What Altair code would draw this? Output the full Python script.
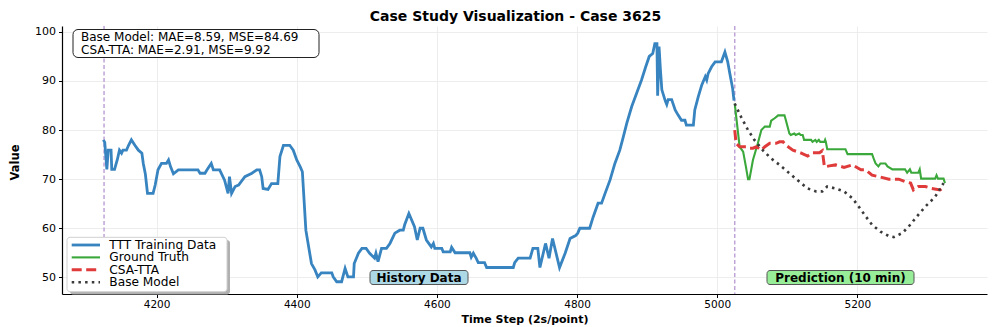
import altair as alt
import pandas as pd

# ---------------- data ----------------
series_names = ["TTT Training Data", "Ground Truth", "CSA-TTA", "Base Model"]
series_colors = ["#3784c0", "#3aa83a", "#e03b3b", "#3a3a3a"]

hist_x = [4124, 4126, 4129, 4131, 4135, 4136, 4140, 4144, 4147, 4150, 4152, 4157, 4160, 4164, 4169,
          4174, 4179, 4181, 4184, 4187, 4195, 4198, 4202, 4207, 4214, 4217, 4220, 4224, 4231, 4259,
          4262, 4269, 4272, 4278, 4281, 4290, 4297, 4302, 4304, 4307, 4312, 4317, 4326, 4336, 4343,
          4347, 4350, 4352, 4359, 4364, 4373, 4376, 4381, 4390, 4395, 4400, 4405, 4408, 4413, 4421,
          4426, 4430, 4435, 4450, 4452, 4457, 4464, 4469, 4473, 4481, 4482, 4488, 4493, 4499, 4504,
          4511, 4513, 4516, 4521, 4528, 4533, 4540, 4547, 4552, 4554, 4560, 4568, 4572, 4576, 4580,
          4585, 4592, 4595, 4597, 4607, 4609, 4619, 4621, 4626, 4647, 4649, 4652, 4656, 4659, 4668,
          4671, 4709, 4711, 4716, 4733, 4737, 4744, 4747, 4755, 4760, 4765, 4775, 4783, 4790, 4798,
          4801, 4804, 4818, 4823, 4830, 4835, 4840, 4847, 4854, 4861, 4866, 4871, 4878, 4885, 4892,
          4898, 4903, 4908, 4911, 4914, 4915, 4917, 4919, 4921, 4926, 4928, 4930, 4935, 4940, 4944,
          4949, 4954, 4956, 4966, 4968, 4973, 4978, 4983, 4985, 4987, 4992, 4997, 5006, 5011, 5015,
          5018, 5022, 5024]
hist_y = [78.0, 77.5, 72.0, 75.9, 75.9, 72.0, 72.0, 74.0, 75.9, 75.3, 75.9, 75.9, 76.9, 78.0, 76.9,
          75.9, 75.3, 73.2, 71.0, 67.1, 67.1, 68.8, 71.9, 73.2, 73.2, 73.9, 72.5, 71.1, 71.9, 71.9,
          71.2, 71.2, 71.9, 73.2, 71.9, 71.9, 69.8, 67.1, 70.5, 67.1, 68.5, 68.8, 70.5, 71.2, 71.9,
          71.9, 70.5, 68.1, 67.9, 69.1, 69.1, 74.6, 76.9, 76.9, 75.9, 73.9, 72.5, 71.5, 59.6, 52.8,
          51.5, 50.1, 50.9, 50.9, 50.1, 49.1, 49.1, 51.8, 50.1, 50.1, 52.8, 54.9, 55.9, 55.9, 54.9,
          53.9, 54.9, 53.2, 55.9, 55.9, 56.9, 59.0, 59.6, 59.6, 60.7, 63.0, 60.3, 57.6, 60.0, 60.0,
          57.6, 56.2, 56.9, 55.9, 55.9, 55.2, 55.2, 56.1, 55.0, 55.0, 54.1, 54.9, 53.9, 53.0, 53.0,
          52.0, 52.0, 53.0, 53.9, 53.9, 55.9, 55.9, 52.0, 56.9, 53.9, 57.9, 52.0, 54.9, 57.9, 58.5,
          59.0, 60.0, 60.0, 62.3, 65.1, 65.1, 67.1, 69.8, 73.2, 75.9, 78.6, 81.4, 84.8, 87.5, 90.2,
          92.9, 95.0, 95.6, 97.6, 97.6, 87.0, 97.0, 92.2, 88.2, 85.9, 85.2, 86.2, 86.2, 84.1, 83.1,
          82.0, 82.0, 81.0, 81.0, 84.1, 86.8, 89.2, 90.9, 90.2, 91.5, 92.9, 93.9, 93.9, 95.9, 93.9,
          91.5, 88.5, 86.0]

gt_x = [5025, 5032, 5037, 5041, 5044, 5046, 5051, 5058, 5063, 5068, 5075, 5077, 5082, 5087, 5096,
        5098, 5103, 5105, 5110, 5112, 5117, 5119, 5122, 5124, 5134, 5136, 5140, 5142, 5145, 5147,
        5153, 5154, 5155, 5157, 5183, 5186, 5221, 5224, 5226, 5230, 5233, 5240, 5243, 5250, 5268,
        5271, 5275, 5277, 5287, 5289, 5291, 5311, 5313, 5315, 5323, 5325]
gt_y = [85.4, 76.6, 75.6, 72.5, 70.0, 70.0, 73.9, 77.3, 80.0, 80.7, 80.7, 81.9, 82.4, 83.0, 83.0,
        82.0, 79.3, 79.0, 79.3, 79.0, 79.3, 79.0, 79.0, 78.0, 78.0, 77.6, 78.0, 77.6, 78.0, 77.6,
        77.6, 78.0, 77.6, 76.1, 76.1, 75.1, 75.1, 73.9, 73.2, 72.6, 73.2, 73.2, 72.6, 72.0, 72.0,
        71.3, 72.0, 71.3, 71.3, 72.0, 70.1, 70.1, 70.8, 70.1, 70.1, 69.2]

csa_x = [5025, 5027, 5032, 5042, 5046, 5051, 5056, 5063, 5068, 5075, 5084, 5089, 5094, 5098, 5108,
         5120, 5129, 5136, 5146, 5150, 5153, 5160, 5169, 5181, 5193, 5205, 5212, 5221, 5231, 5245,
         5259, 5268, 5276, 5280, 5287, 5297, 5306, 5318, 5323]
csa_y = [80.0, 77.3, 76.6, 76.6, 76.3, 76.3, 76.6, 75.9, 76.6, 77.3, 77.3, 77.6, 77.6, 76.9, 75.9,
         75.3, 74.7, 75.4, 75.4, 75.8, 72.5, 72.7, 72.9, 72.4, 72.9, 71.9, 71.9, 70.8, 70.5, 70.0,
         70.0, 69.5, 69.2, 67.8, 68.5, 68.5, 68.1, 67.8, 68.3]

base_x = [5025, 5034, 5044, 5053, 5065, 5077, 5089, 5103, 5117, 5129, 5141, 5150, 5157, 5169, 5181,
          5193, 5202, 5212, 5221, 5233, 5245, 5252, 5264, 5273, 5285, 5297, 5311, 5323]
base_y = [85.4, 82.7, 80.0, 78.0, 75.9, 74.2, 72.9, 71.2, 69.5, 68.1, 67.5, 67.5, 68.5, 68.1, 67.5,
          66.1, 64.4, 62.4, 60.7, 59.3, 58.4, 58.2, 59.0, 60.3, 62.4, 64.4, 66.4, 69.2]

split_x = [4125, 5025]
x_ticks = [4200, 4400, 4600, 4800, 5000, 5200]
y_ticks = [50, 60, 70, 80, 90, 100]
metrics_lines = ["Base Model: MAE=8.59, MSE=84.69", "CSA-TTA: MAE=2.91, MSE=9.92"]
region_labels = ["History Data", "Prediction (10 min)"]

# ---------------- tables ----------------
frames = []
for name, xs, ys in zip(series_names, [hist_x, gt_x, csa_x, base_x], [hist_y, gt_y, csa_y, base_y]):
    frames.append(pd.DataFrame({"x": xs, "y": ys, "series": name}))
lines_df = pd.concat(frames, ignore_index=True)
dummy = pd.DataFrame({"d": [0]})

FONT = "DejaVu Sans"

x_enc = alt.X("x:Q", scale=alt.Scale(domain=[4065, 5385], nice=False, zero=False),
              axis=alt.Axis(values=x_ticks, title="Time Step (2s/point)", format="d",
                            titleY=25.5, titleBaseline="middle", labelPadding=2,
                            labelFontSize=10.5, titleFontSize=11))
y_enc = alt.Y("y:Q", scale=alt.Scale(domain=[46.6, 101.2], nice=False, zero=False),
              axis=alt.Axis(values=y_ticks, title="Value", titleX=-47, titleY=136,
                            titleBaseline="middle"))

styles = {
    "TTT Training Data": dict(strokeWidth=2.8),
    "Ground Truth": dict(strokeWidth=2.1),
    "CSA-TTA": dict(strokeWidth=3.0, strokeDash=[10, 4.5]),
    "Base Model": dict(strokeWidth=2.6, strokeDash=[2.5, 4.2]),
}

layers = []
rules = alt.Chart(pd.DataFrame({"x": split_x})).mark_rule(
    color="#bfa4d7", strokeDash=[4, 2.5], strokeWidth=1.5).encode(x=x_enc)
layers.append(rules)

for name, col in zip(series_names, series_colors):
    layers.append(
        alt.Chart(lines_df).transform_filter(alt.datum.series == name)
        .mark_line(color=col, strokeCap="butt", strokeJoin="miter", **styles[name])
        .encode(x=x_enc, y=y_enc)
    )

# metrics annotation box
layers.append(alt.Chart(dummy).mark_rect(fill="white", stroke="#222", strokeWidth=1, cornerRadius=5)
              .encode(x=alt.value(11), x2=alt.value(257), y=alt.value(3.5), y2=alt.value(31.5)))
for i, t in enumerate(metrics_lines):
    layers.append(alt.Chart(dummy).mark_text(align="left", baseline="middle", font=FONT, fontSize=12,
                                             color="black")
                  .encode(x=alt.value(19), y=alt.value(11.3 + 12.5 * i), text=alt.value(t)))

# region labels
for lab, x0, x1, fillc in [(region_labels[0], 308, 406, "#add8e6"), (region_labels[1], 705, 852, "#98ee98")]:
    layers.append(alt.Chart(dummy).mark_rect(fill=fillc, stroke="#555", strokeWidth=1, cornerRadius=3)
                  .encode(x=alt.value(x0), x2=alt.value(x1), y=alt.value(244.5), y2=alt.value(258.5)))
    layers.append(alt.Chart(dummy).mark_text(align="center", baseline="middle", font=FONT, fontSize=12,
                                             fontWeight="bold", color="black")
                  .encode(x=alt.value((x0 + x1) / 2), y=alt.value(251.8), text=alt.value(lab)))

# legend (drawn)
layers.append(alt.Chart(dummy).mark_rect(fill="#b0b0b0", cornerRadius=3)
              .encode(x=alt.value(8), x2=alt.value(168), y=alt.value(214), y2=alt.value(268.5)))
layers.append(alt.Chart(dummy).mark_rect(fill="white", stroke="#d0d0d0", strokeWidth=1, cornerRadius=3)
              .encode(x=alt.value(5), x2=alt.value(165), y=alt.value(211.3), y2=alt.value(265.7)))
for i, (name, col) in enumerate(zip(series_names, series_colors)):
    yy = 219 + 12.4 * i
    st = dict(styles[name])
    layers.append(alt.Chart(dummy).mark_rule(color=col, strokeCap="butt", **st)
                  .encode(x=alt.value(9.7), x2=alt.value(38), y=alt.value(yy)))
    layers.append(alt.Chart(dummy).mark_text(align="left", baseline="middle", font=FONT, fontSize=12.2,
                                             color="black")
                  .encode(x=alt.value(47.3), y=alt.value(yy), text=alt.value(name)))

chart = alt.layer(*layers).properties(
    width=925, height=268,
    padding={"left": 54, "top": 18, "right": 1, "bottom": 32},
    autosize=alt.AutoSizeParams(type="none"),
    title=alt.TitleParams("Case Study Visualization - Case 3625", font=FONT, fontSize=14,
                          fontWeight="bold", anchor="middle", offset=1, dx=-9, color="black"),
).configure_view(stroke=None).configure_axis(
    labelFont=FONT, labelFontSize=11, labelColor="black",
    titleFont=FONT, titleFontSize=11.5, titleFontWeight="bold", titleColor="black",
    domainColor="black", domainWidth=1.2, tickColor="black", tickSize=3.5, tickWidth=1,
    labelPadding=3, gridColor="#e8e8e8", gridWidth=0.8,
)

chart.save("out.html", embed_options={"renderer": "svg", "actions": False})
